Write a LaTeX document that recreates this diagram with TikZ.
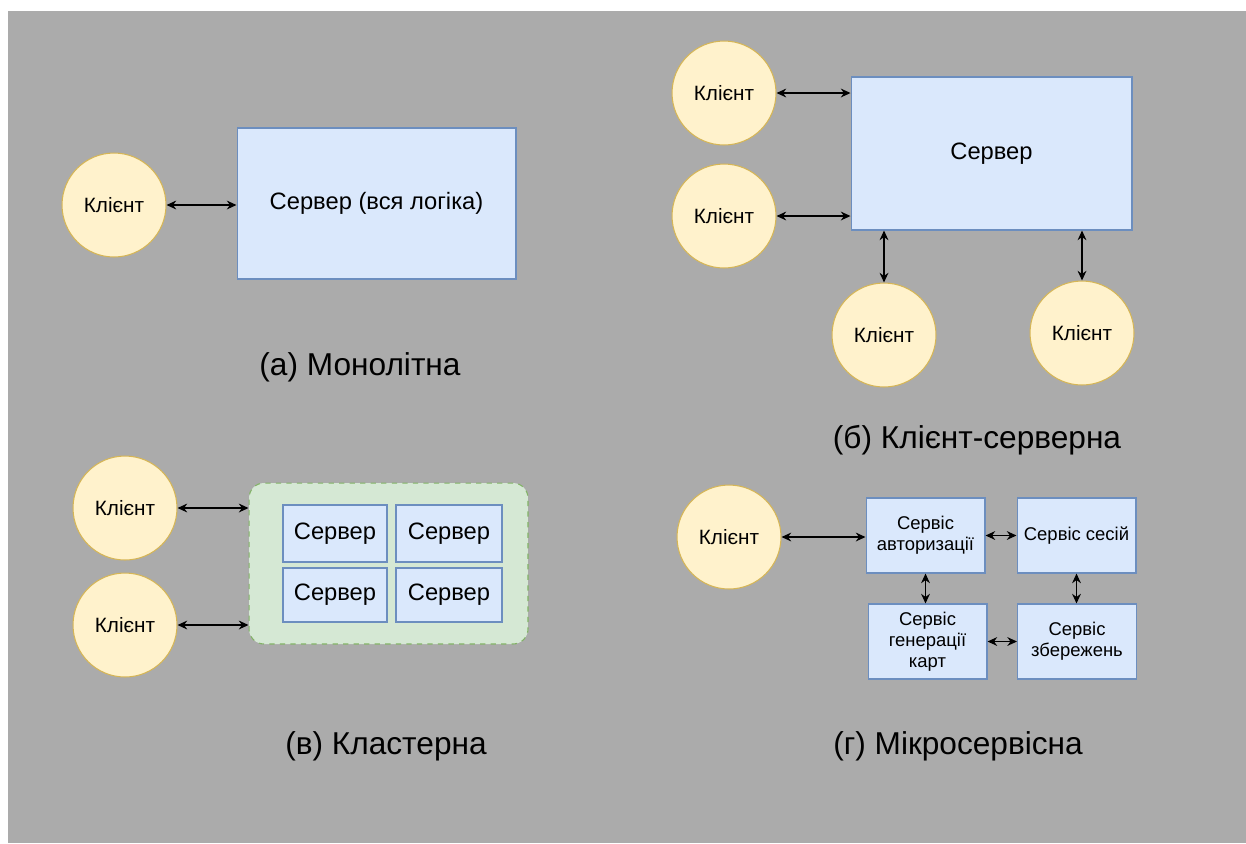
\documentclass[tikz,border=0pt]{standalone}
\usepackage{fontspec}
\setmainfont{Liberation Sans}
\usetikzlibrary{arrows.meta}

\definecolor{bggray}{HTML}{ABABAB}
\definecolor{clientfill}{HTML}{FFF2CC}
\definecolor{clientline}{HTML}{D6B656}
\definecolor{boxfill}{HTML}{DAE8FC}
\definecolor{boxline}{HTML}{6C8EBF}
\definecolor{clusterfill}{HTML}{D5E8D4}
\definecolor{clusterline}{HTML}{82B366}

\begin{document}
\begin{tikzpicture}[x=0.02cm, y=-0.02cm,
    client/.style={circle, draw=clientline, fill=clientfill, line width=0.6pt,
        minimum size=2.08cm, inner sep=0pt, font=\fontsize{11.8}{14}\selectfont},
    serverbox/.style={rectangle, draw=boxline, fill=boxfill, line width=0.6pt,
        inner sep=0pt, font=\fontsize{13.5}{16}\selectfont},
    servicebox/.style={serverbox, minimum width=2.38cm, minimum height=1.5cm,
        align=center, font=\fontsize{10.5}{12}\selectfont},
    link/.style={{Stealth[length=5.5pt,width=5pt]}-{Stealth[length=5.5pt,width=5pt]}, line width=0.75pt},
    caption/.style={font=\fontsize{18}{21}\selectfont}]
    \useasboundingbox (0,0) rectangle (1246,843);
    \fill[bggray] (8,11) rectangle (1246,843);
    % (a) monolith
        \node[client] (a1) at (114,205) {Клієнт};
        \node[serverbox, minimum width=5.58cm, minimum height=3.02cm] (as) at (376.5,203.5) {Сервер (вся логіка)};
        \draw[link] (a1.east) -- (a1 -| as.west);
        \node[caption] (capa) at (360,367) {(а) Монолітна};
    % (b) client-server
        \node[serverbox, minimum width=5.62cm, minimum height=3.06cm] (bs) at (991.5,153.5) {Сервер};
        \node[client] (b1) at (724,93) {Клієнт};
        \node[client] (b2) at (724,216) {Клієнт};
        \node[client] (b3) at (884,335) {Клієнт};
        \node[client] (b4) at (1082,333) {Клієнт};
        \draw[link] (b1.east) -- (b1 -| bs.west);
        \draw[link] (b2.east) -- (b2 -| bs.west);
        \draw[link] (b3 |- bs.south) -- (b3.north);
        \draw[link] (b4 |- bs.south) -- (b4.north);
        \node[caption] (capb) at (977,440) {(б) Клієнт-серверна};
    % (c) cluster
        \node[rectangle, rounded corners=0.3cm, draw=clusterline, dashed, fill=clusterfill,
            line width=0.6pt, minimum width=5.58cm, minimum height=3.22cm] (cl) at (388.5,563.5) {};
        \node[serverbox, minimum width=2.08cm, minimum height=1.14cm] (v1) at (335,533.5) {Сервер};
        \node[serverbox, minimum width=2.12cm, minimum height=1.14cm] (v2) at (449,533.5) {Сервер};
        \node[serverbox, minimum width=2.08cm, minimum height=1.08cm] (v3) at (335,595) {Сервер};
        \node[serverbox, minimum width=2.12cm, minimum height=1.08cm] (v4) at (449,595) {Сервер};
        \node[client] (c1) at (125,508) {Клієнт};
        \node[client] (c2) at (125,625) {Клієнт};
        \draw[link] (c1.east) -- (c1 -| cl.west);
        \draw[link] (c2.east) -- (c2 -| cl.west);
        \node[caption] (capc) at (386,746) {(в) Кластерна};
    % (d) microservices
        \node[client] (d1) at (729,537) {Клієнт};
        \node[servicebox] (auth) at (925.5,535.5) {Сервіс\\авторизації};
        \node[servicebox] (sess) at (1076.5,535.5) {Сервіс сесій};
        \node[servicebox] (maps) at (927.5,641.5) {Сервіс\\генерації\\карт};
        \node[servicebox] (save) at (1077,641.5) {Сервіс\\збережень};
        \draw[link] (d1.east) -- (d1 -| auth.west);
        \draw[link] (auth.east) -- (auth -| sess.west);
        \draw[link] (auth.south) -- (auth.south |- maps.north);
        \draw[link] (sess.south) -- (sess.south |- save.north);
        \draw[link] (maps.east) -- (maps -| save.west);
        \node[caption] (capd) at (958,746) {(г) Мікросервісна};
\end{tikzpicture}
\end{document}
